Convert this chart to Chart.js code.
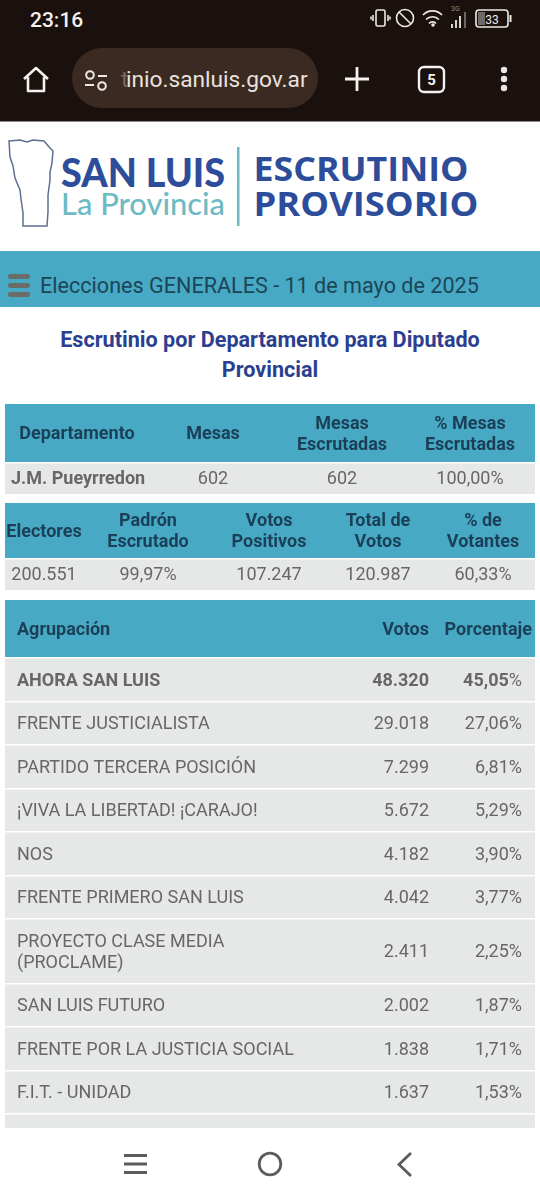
<!DOCTYPE html>
<html lang="es">
<head>
<meta charset="utf-8">
<title>Escrutinio provisorio</title>
<script src="https://cdn.jsdelivr.net/npm/chart.js@4/dist/chart.umd.js"></script>
<style>
  html, body { margin: 0; padding: 0; background: #fff; }
  #pagina { position: relative; width: 540px; height: 1200px; overflow: hidden; font-family: Roboto, sans-serif; }
  #pagina > * { position: absolute; }
  canvas { left: 5px; }
  .banda { left: 0; top: 251px; width: 540px; height: 56px; background: #47a9c4; }
  .elecciones { left: 40px; top: 271px; font-size: 21.6px; line-height: 30px; color: #1c4558; white-space: nowrap; }
  .titulo { left: 40px; width: 460px; top: 325px; text-align: center; font-weight: 700; font-size: 21.6px; line-height: 30px; color: #2b3f8f; }
</style>
</head>
<body>
<div id="pagina">
  <!-- barra del telefono y del navegador -->
  <svg style="left:0;top:0" width="540" height="122" viewBox="0 0 540 122">
    <rect width="540" height="121" fill="#1a100d"/>
    <rect y="121" width="540" height="1.5" fill="#8d8a88"/>
    <text x="30" y="26.500" font-family="Roboto" font-weight="500" font-size="21" fill="#f4f1ef">23:16</text>
    <g fill="none" stroke="#eee9e6" stroke-width="1.6">
      <rect x="376" y="10" width="9" height="16" rx="1.5"/>
      <path d="M373 15v6M388 15v6M371 16.5v3M390 16.5v3"/>
      <circle cx="405" cy="18" r="8.500"/><path d="M399 12L411 24"/>
      <path d="M423 15a13 13 0 0 1 19 0M426 19.500a9 9 0 0 1 13 0M429 23.500a4.500 4.500 0 0 1 7 0"/>
      <rect x="476" y="10" width="32" height="17" rx="3"/>
    </g>
    <circle cx="433" cy="25" r="1.800" fill="#eee9e6"/>
    <path d="M452 28v-4M456 28v-8M460 28v-12" stroke="#eee9e6" stroke-width="1.800"/>
    <path d="M465 28v-16" stroke="#77716e" stroke-width="1.800"/>
    <text x="451" y="11" font-family="Roboto" font-size="7" fill="#8f8986">3G</text>
    <rect x="478" y="12" width="7" height="13" fill="#6d6967"/>
    <text x="492" y="23.500" text-anchor="middle" font-family="Roboto" font-size="12" fill="#eee9e6">33</text>
    <rect x="509.500" y="15" width="2" height="7" fill="#eee9e6"/>

    <path d="M24 79L36 68L48 79M28 77v14h16v-14" fill="none" stroke="#f5f1ee" stroke-width="2.600" stroke-linejoin="round"/>
    <rect x="72" y="48" width="246" height="60" rx="30" fill="#3a2a22"/>
    <g fill="none" stroke="#efe9e5" stroke-width="2">
      <circle cx="90" cy="75" r="3.800"/><path d="M98 76h9"/>
      <circle cx="102" cy="86" r="3.800"/><path d="M85 85h9"/>
    </g>
    <text x="126" y="87" font-family="Roboto" font-size="22.700" fill="#e9e2dd">inio.sanluis.gov.ar</text>
    <text x="121" y="87" font-family="Roboto" font-size="22.700" fill="#75675f">t</text>
    <path d="M357 67v24M345 79h24" stroke="#f5f1ee" stroke-width="2.800"/>
    <rect x="419" y="67" width="25" height="25" rx="5" fill="none" stroke="#f5f1ee" stroke-width="2.400"/>
    <text x="431.500" y="85" text-anchor="middle" font-family="Roboto" font-weight="700" font-size="15" fill="#f5f1ee">5</text>
    <g fill="#ece7e4"><circle cx="504" cy="70" r="3.200"/><circle cx="504" cy="79" r="3.200"/><circle cx="504" cy="88" r="3.200"/></g>
  </svg>

  <!-- logo -->
  <svg style="left:0;top:122px" width="540" height="129" viewBox="0 122 540 129">
    <path d="M9 141L20 140L27 142L33 140L44 141L50 148L53 151L52 163L50 172L50 180L48 195L48 212L47 226L23 226L23 213L21 199L20 190L15 178L13 166L10 157Z" fill="none" stroke="#5f6f93" stroke-width="1.500"/>
    <text x="61" y="186.500" font-family="Lato" font-weight="900" font-size="40" textLength="164" lengthAdjust="spacingAndGlyphs" fill="#2d4d9a">SAN LUIS</text>
    <text x="61" y="215" font-family="Lato" font-weight="500" font-size="30" textLength="164" lengthAdjust="spacingAndGlyphs" fill="#6dbac4">La Provincia</text>
    <rect x="237" y="147" width="2.500" height="79" fill="#6dbac4"/>
    <text x="253.500" y="180.500" font-family="'Open Sans'" font-weight="700" font-size="34" textLength="215" lengthAdjust="spacingAndGlyphs" fill="#2d4d9a">ESCRUTINIO</text>
    <text x="253.500" y="216" font-family="'Open Sans'" font-weight="700" font-size="34" textLength="225" lengthAdjust="spacingAndGlyphs" fill="#2d4d9a">PROVISORIO</text>
  </svg>

  <div class="banda"></div>
  <svg style="left:8px;top:274px" width="23" height="24" viewBox="0 0 23 24">
    <g fill="#6b6b68"><rect x="0" y="0" width="22" height="5" rx="2.500"/><rect x="0" y="9" width="22" height="5" rx="2.500"/><rect x="0" y="18" width="22" height="5" rx="2.500"/></g>
  </svg>
  <div class="elecciones">Elecciones GENERALES - 11 de mayo de 2025</div>
  <div class="titulo">Escrutinio por Departamento para Diputado Provincial</div>

  <canvas id="tablaMesas" width="530" height="90" style="top:404px"></canvas>
  <canvas id="tablaVotantes" width="530" height="87" style="top:503px"></canvas>
  <canvas id="tablaAgrupaciones" width="530" height="528" style="top:600px"></canvas>

  <!-- barra de navegacion -->
  <svg style="left:0;top:1128px" width="540" height="72" viewBox="0 1128 540 72">
    <path d="M124 1155.500h23M124 1164h23M124 1172.500h23" stroke="#5c5c5c" stroke-width="3"/>
    <circle cx="270" cy="1164" r="10.800" fill="none" stroke="#5c5c5c" stroke-width="2.800"/>
    <path d="M411 1153L399 1164.500L411 1176" fill="none" stroke="#5c5c5c" stroke-width="2.800"/>
  </svg>
</div>

<script>
// primera tabla
const encabezadosMesas = ['Departamento', 'Mesas', ['Mesas', 'Escrutadas'], ['% Mesas', 'Escrutadas']];
const departamentos = ['J.M. Pueyrredon'];
const mesas = [602];
const mesasEscrutadas = [602];
const pctMesasEscrutadas = [100.00];

// segunda tabla
const encabezadosVotantes = ['Electores', ['Padrón', 'Escrutado'], ['Votos', 'Positivos'], ['Total de', 'Votos'], ['% de', 'Votantes']];
const electores = [200551];
const pctPadron = [99.97];
const votosPositivos = [107247];
const totalVotos = [120987];
const pctVotantes = [60.33];

// tabla de agrupaciones
const encabezadosAgrupaciones = ['Agrupación', 'Votos', 'Porcentaje'];
const agrupaciones = [
  'AHORA SAN LUIS', 'FRENTE JUSTICIALISTA', 'PARTIDO TERCERA POSICIÓN', '¡VIVA LA LIBERTAD! ¡CARAJO!',
  'NOS', 'FRENTE PRIMERO SAN LUIS', ['PROYECTO CLASE MEDIA', '(PROCLAME)'], 'SAN LUIS FUTURO',
  'FRENTE POR LA JUSTICIA SOCIAL', 'F.I.T. - UNIDAD',
];
const votos = [48320, 29018, 7299, 5672, 4182, 4042, 2411, 2002, 1838, 1637];
const porcentajes = [45.05, 27.06, 6.81, 5.29, 3.90, 3.77, 2.25, 1.87, 1.71, 1.53];

const TEAL = '#47a9c4';
const GRIS = '#e6e7e7';
const TEXTO = '#666766';
const TEXTO_ENC = '#1b3f57';

const miles = v => v.toLocaleString('es-AR');
const pct = v => v.toLocaleString('es-AR', { minimumFractionDigits: 2, maximumFractionDigits: 2 });
const lineas = t => (Array.isArray(t) ? t : [t]);

// dibuja el texto de cada celda sobre el punto que ubico la escala
const textoCeldas = {
  id: 'textoCeldas',
  beforeDraw(chart) {
    const { ctx, chartArea: a, scales } = chart;
    const yEnc = scales.y.getPixelForValue(chart.options.plugins.textoCeldas.altoEncabezado);
    ctx.save();
    ctx.fillStyle = GRIS;
    ctx.fillRect(a.left, a.top, a.width, a.height);
    ctx.fillStyle = TEAL;
    ctx.fillRect(a.left, a.top, a.width, yEnc - a.top);
    ctx.restore();
  },
  afterDatasetsDraw(chart) {
    const { ctx } = chart;
    chart.data.datasets.forEach((ds, d) => {
      chart.getDatasetMeta(d).data.forEach((pt, i) => {
        const filas = lineas(ds.textos[i]);
        const negrita = ds.negrita && ds.negrita(i);
        const color = ds.color || TEXTO;
        ctx.save();
        ctx.textBaseline = 'middle';
        ctx.fillStyle = color;
        ctx.textAlign = ds.alinear || 'center';
        ctx.font = (negrita ? '700 ' : '400 ') + ds.tam + 'px Roboto';
        filas.forEach((t, n) => {
          const y = pt.y + 1.3 + (n - (filas.length - 1) / 2) * ds.interlinea;
          let x = pt.x;
          if (ds.sufijo) {
            ctx.save();
            ctx.font = '400 ' + ds.tam + 'px Roboto';
            ctx.fillText(ds.sufijo, x, y);
            x -= ctx.measureText(ds.sufijo).width;
            ctx.restore();
          }
          ctx.fillText(t, x, y);
        });
        ctx.restore();
      });
    });
  },
};

function crearTabla(id, altoEnc, altos, columnas) {
  const canvas = document.getElementById(id);
  const limites = [0, altoEnc];
  altos.forEach(h => limites.push(limites[limites.length - 1] + h));
  const centros = altos.map((h, i) => limites[i + 1] + h / 2);

  const datasets = [];
  columnas.forEach(c => {
    datasets.push({
      label: 'enc ' + lineas(c.enc).join(' '),
      data: [{ x: c.xEnc, y: altoEnc / 2 }],
      textos: [c.enc], alinear: c.alinearEnc || 'center',
      tam: 18, interlinea: 21, color: TEXTO_ENC, negrita: () => true,
    });
    datasets.push({
      label: lineas(c.enc).join(' '),
      data: c.textos.map((t, i) => ({ x: c.x, y: centros[i] })),
      textos: c.textos, alinear: c.alinear || 'center',
      tam: 18, interlinea: 21, negrita: c.negrita, sufijo: c.sufijo,
    });
  });

  return new Chart(canvas, {
    type: 'scatter',
    data: { datasets },
    plugins: [textoCeldas],
    options: {
      responsive: false,
      animation: false,
      devicePixelRatio: window.devicePixelRatio,
      layout: { padding: 0 },
      elements: { point: { radius: 0, hoverRadius: 0 } },
      plugins: {
        legend: { display: false },
        tooltip: { enabled: false },
        textoCeldas: { altoEncabezado: altoEnc },
      },
      scales: {
        x: { display: false, min: 0, max: canvas.width },
        y: {
          reverse: true,
          min: 0,
          max: canvas.height,
          ticks: { display: false },
          border: { display: false },
          grid: { color: '#fff', lineWidth: 1.6, drawTicks: false },
          // solo lineas entre filas, no en los bordes del canvas
          afterBuildTicks: s => {
            s.ticks = limites.filter(v => v > 0 && v < canvas.height).map(value => ({ value }));
          },
          afterFit: s => { s.width = 0; },
        },
      },
    },
  });
}

crearTabla('tablaMesas', 59, [31], [
  { enc: encabezadosMesas[0], xEnc: 72, x: 6, alinear: 'left', textos: departamentos, negrita: () => true },
  { enc: encabezadosMesas[1], xEnc: 208, x: 208, textos: mesas.map(miles) },
  { enc: encabezadosMesas[2], xEnc: 337, x: 337, textos: mesasEscrutadas.map(miles) },
  { enc: encabezadosMesas[3], xEnc: 465, x: 465, textos: pctMesasEscrutadas.map(v => pct(v) + '%') },
]);

crearTabla('tablaVotantes', 56, [31], [
  { enc: encabezadosVotantes[0], xEnc: 39, x: 39, textos: electores.map(miles) },
  { enc: encabezadosVotantes[1], xEnc: 143, x: 143, textos: pctPadron.map(v => pct(v) + '%') },
  { enc: encabezadosVotantes[2], xEnc: 264, x: 264, textos: votosPositivos.map(miles) },
  { enc: encabezadosVotantes[3], xEnc: 373, x: 373, textos: totalVotos.map(miles) },
  { enc: encabezadosVotantes[4], xEnc: 478, x: 478, textos: pctVotantes.map(v => pct(v) + '%') },
]);

// la fila con dos lineas es mas alta; la ultima queda cortada por la barra inferior
const altosAgrupaciones = agrupaciones.map(a => (lineas(a).length > 1 ? 64.5 : 43.5));
crearTabla('tablaAgrupaciones', 58, altosAgrupaciones, [
  { enc: encabezadosAgrupaciones[0], xEnc: 12, alinearEnc: 'left', x: 12, alinear: 'left', textos: agrupaciones, negrita: i => i === 0 },
  { enc: encabezadosAgrupaciones[1], xEnc: 424, alinearEnc: 'right', x: 424, alinear: 'right', textos: votos.map(miles), negrita: i => i === 0 },
  { enc: encabezadosAgrupaciones[2], xEnc: 527, alinearEnc: 'right', x: 517, alinear: 'right', textos: porcentajes.map(pct), negrita: i => i === 0, sufijo: '%' },
]);
</script>
</body>
</html>
